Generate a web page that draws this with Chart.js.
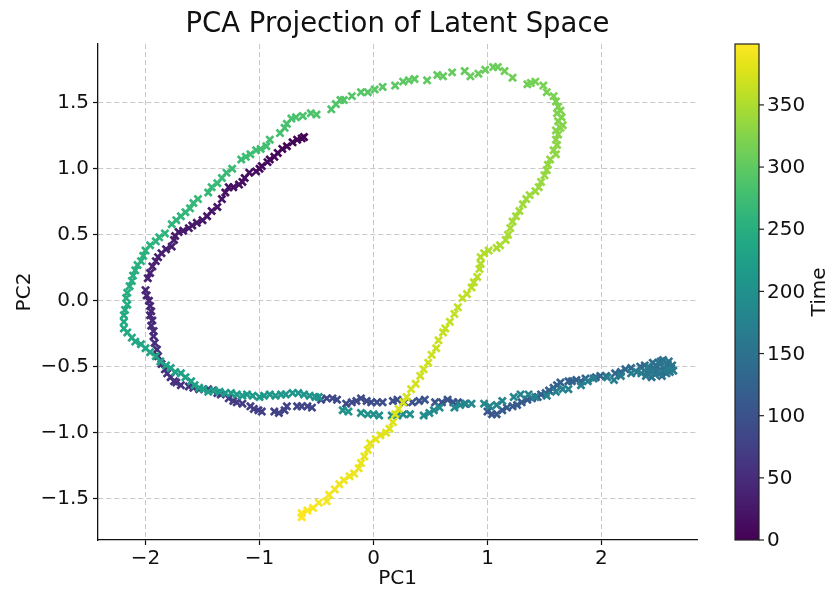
<!DOCTYPE html>
<html><head><meta charset="utf-8">
<script src="https://cdn.jsdelivr.net/npm/chart.js@4/dist/chart.umd.min.js"></script>
<style>html,body{margin:0;padding:0;background:#fff}#wrap{width:837px;height:591px}</style>
</head><body><div id="wrap"><canvas id="c" width="837" height="591"></canvas></div>
<script>
// PC1 values along the trajectory (time order)
const pc1 = [
-0.61,-0.63,-0.67,-0.71,-0.76,-0.80,-0.84,-0.87,-0.91,-0.93,-0.98,-1.00,-1.03,-1.09,-1.13,-1.15,-1.18,-1.23,-1.27,-1.30,-1.33,-1.37,-1.42,-1.46,-1.50,-1.55,-1.59,-1.62,-1.67,-1.71,-1.74,-1.75,-1.77,-1.82,-1.86,-1.89,-1.91,-1.94,-1.96,-1.98,
-2.00,-1.99,-1.97,-1.96,-1.95,-1.96,-1.94,-1.95,-1.93,-1.93,-1.92,-1.90,-1.89,-1.86,-1.83,
-1.81,-1.78,-1.75,-1.73,-1.69,-1.62,-1.58,-1.53,-1.45,-1.41,-1.37,-1.34,-1.27,-1.23,-1.20,-1.15,-1.08,-1.05,-1.01,-0.98,-0.87,-0.83,-0.78,-0.76,-0.67,-0.63,-0.58,-0.54,-0.46,-0.41,-0.36,-0.32,-0.24,-0.19,-0.15,-0.11,-0.06,
-0.02,0.03,0.08,0.17,0.21,0.27,0.34,0.40,0.45,0.54,0.60,0.65,0.70,0.74,0.80,
1.00,1.04,1.08,1.13,1.17,1.22,1.26,1.30,1.35,1.39,1.44,1.47,1.51,1.54,1.58,1.61,1.64,1.71,1.74,1.78,1.82,1.86,1.95,1.99,2.04,2.12,2.17,2.21,2.26,2.34,
2.38,2.42,2.45,2.49,2.52,2.55,2.58,2.61,2.57,2.53,2.48,2.44,2.40,2.46,2.50,2.54,2.59,2.62,2.60,2.56,2.51,2.47,2.43,2.39,2.35,2.41,2.58,2.63,
2.31,2.26,2.17,2.11,2.05,1.93,1.88,1.82,1.71,1.66,1.60,1.52,1.42,1.36,1.29,1.23,1.13,1.08,1.02,0.97,0.86,0.81,0.76,0.71,0.58,0.53,0.49,0.44,0.32,0.26,0.21,0.16,0.05,0.00,-0.05,-0.11,-0.22,-0.27,
-0.48,-0.51,-0.56,-0.61,-0.66,-0.71,-0.77,-0.81,-0.86,-0.91,-0.96,-1.00,-1.06,-1.11,-1.15,-1.20,-1.25,-1.30,-1.35,-1.40,-1.45,-1.49,-1.53,-1.57,-1.60,-1.65,
-1.69,-1.74,-1.78,-1.82,-1.87,-1.91,-1.96,-2.00,-2.04,-2.09,-2.12,-2.16,-2.19,-2.19,-2.19,-2.18,-2.16,-2.17,-2.16,-2.14,-2.12,-2.11,-2.09,-2.07,-2.04,-2.02,-2.00,
-1.96,-1.91,-1.88,-1.83,-1.77,-1.73,-1.69,-1.65,-1.61,-1.58,-1.54,-1.45,-1.42,-1.37,-1.33,-1.29,-1.24,-1.16,-1.12,-1.08,-1.03,-0.99,-0.94,-0.91,-0.82,-0.78,-0.76,-0.72,
-0.68,-0.62,-0.55,-0.50,-0.37,-0.33,-0.29,-0.26,-0.19,-0.11,-0.05,0.01,0.08,0.19,0.26,0.31,0.36,0.47,0.56,0.61,0.69,0.80,0.85,0.92,0.98,1.05,1.09,1.15,1.22,1.35,1.38,1.42,1.49,1.52,1.58,1.60,1.62,
1.64,1.61,1.65,1.62,1.66,1.64,1.60,1.62,1.60,1.61,1.58,1.60,1.55,1.53,1.52,1.50,1.47,1.45,1.42,1.37,1.34,1.31,1.28,1.25,1.22,1.20,1.18,1.16,1.11,1.08,1.01,0.97,0.94,0.94,0.93,0.91,0.88,0.86,0.82,0.78,0.74,0.71,0.67,0.63,0.61,0.57,0.55,0.51,0.48,0.44,0.41,0.37,0.33,0.29,0.26,0.22,0.19,0.17,0.14,0.11,0.06,0.02,-0.03,-0.05,-0.08,-0.11,-0.13,-0.17,-0.21,-0.26,-0.30,-0.34,-0.39,-0.41,-0.48,-0.53,-0.58,-0.63,-0.63
];
// PC2 values along the trajectory (time order)
const pc2 = [
1.24,1.23,1.22,1.20,1.17,1.15,1.12,1.09,1.07,1.05,1.02,1.00,0.98,0.97,0.93,0.90,0.88,0.86,0.86,0.82,0.77,0.71,0.68,0.64,0.61,0.59,0.57,0.55,0.53,0.52,0.49,0.46,0.41,0.39,0.36,0.33,0.30,0.26,0.21,0.17,
0.08,0.04,0.00,-0.04,-0.08,-0.11,-0.15,-0.19,-0.23,-0.27,-0.32,-0.37,-0.42,-0.48,-0.52,
-0.55,-0.58,-0.61,-0.62,-0.64,-0.65,-0.66,-0.67,-0.67,-0.68,-0.70,-0.71,-0.74,-0.76,-0.77,-0.78,-0.80,-0.82,-0.83,-0.84,-0.84,-0.85,-0.83,-0.80,-0.80,-0.80,-0.80,-0.81,-0.75,-0.74,-0.74,-0.75,-0.78,-0.77,-0.76,-0.74,-0.76,
-0.77,-0.77,-0.77,-0.76,-0.75,-0.77,-0.77,-0.76,-0.75,-0.77,-0.77,-0.75,-0.77,-0.77,-0.78,
-0.84,-0.86,-0.86,-0.83,-0.81,-0.80,-0.79,-0.77,-0.75,-0.74,-0.73,-0.71,-0.70,-0.68,-0.66,-0.64,-0.62,-0.61,-0.61,-0.60,-0.61,-0.59,-0.58,-0.57,-0.57,-0.55,-0.54,-0.52,-0.51,-0.50,
-0.49,-0.52,-0.47,-0.50,-0.46,-0.53,-0.48,-0.51,-0.55,-0.57,-0.54,-0.58,-0.55,-0.51,-0.47,-0.45,-0.46,-0.49,-0.54,-0.52,-0.55,-0.56,-0.54,-0.57,-0.55,-0.50,-0.52,-0.53,
-0.54,-0.55,-0.57,-0.60,-0.58,-0.59,-0.61,-0.64,-0.67,-0.67,-0.69,-0.72,-0.73,-0.71,-0.71,-0.73,-0.76,-0.79,-0.80,-0.78,-0.78,-0.78,-0.79,-0.81,-0.81,-0.83,-0.85,-0.87,-0.86,-0.86,-0.87,-0.87,-0.87,-0.86,-0.86,-0.85,-0.84,-0.83,
-0.73,-0.73,-0.72,-0.71,-0.70,-0.70,-0.71,-0.71,-0.72,-0.71,-0.72,-0.73,-0.72,-0.71,-0.72,-0.71,-0.70,-0.70,-0.69,-0.68,-0.69,-0.67,-0.66,-0.64,-0.61,-0.58,
-0.55,-0.54,-0.51,-0.49,-0.46,-0.42,-0.39,-0.36,-0.33,-0.31,-0.28,-0.24,-0.21,-0.16,-0.11,-0.07,-0.03,0.02,0.06,0.11,0.15,0.19,0.23,0.27,0.30,0.34,0.38,
0.42,0.45,0.48,0.51,0.58,0.61,0.64,0.67,0.70,0.74,0.77,0.82,0.86,0.89,0.93,0.97,1.00,1.07,1.09,1.11,1.14,1.15,1.17,1.22,1.27,1.31,1.34,1.38,
1.39,1.40,1.42,1.41,1.45,1.49,1.52,1.52,1.55,1.58,1.58,1.60,1.62,1.63,1.66,1.67,1.68,1.67,1.71,1.70,1.73,1.74,1.70,1.72,1.75,1.77,1.77,1.74,1.69,1.64,1.65,1.66,1.63,1.58,1.55,1.51,1.47,
1.44,1.42,1.39,1.36,1.33,1.31,1.29,1.26,1.22,1.18,1.14,1.11,1.07,1.03,0.99,0.95,0.90,0.86,0.83,0.80,0.77,0.73,0.68,0.64,0.60,0.55,0.50,0.46,0.42,0.40,0.38,0.36,0.33,0.28,0.24,0.18,0.14,0.10,0.05,0.02,-0.05,-0.10,-0.16,-0.21,-0.24,-0.30,-0.36,-0.41,-0.47,-0.52,-0.57,-0.63,-0.67,-0.73,-0.77,-0.82,-0.86,-0.92,-0.97,-1.00,-1.02,-1.05,-1.08,-1.13,-1.18,-1.23,-1.27,-1.31,-1.33,-1.36,-1.39,-1.43,-1.47,-1.52,-1.53,-1.57,-1.59,-1.61,-1.64
];
// Time = sample index along the trajectory
const time = pc1.map((_, i) => i);

const xTicks = [-2, -1, 0, 1, 2];
const xTickLabels = ['\u22122', '\u22121', '0', '1', '2'];
const yTicks = [-1.5, -1, -0.5, 0, 0.5, 1, 1.5];
const yTickLabels = ['\u22121.5', '\u22121.0', '\u22120.5', '0.0', '0.5', '1.0', '1.5'];
const cbTicks = [0, 50, 100, 150, 200, 250, 300, 350];
const titleText = 'PCA Projection of Latent Space';
const xTitle = 'PC1', yTitle = 'PC2', cbTitle = 'Time';

const FONT = '"DejaVu Sans", sans-serif';
const viridis = ['#440154','#471365','#482475','#463480','#414487','#3b528b','#355f8d','#2f6c8e','#2a788e','#25848e','#21918c','#1e9c89','#22a884','#2fb47c','#44bf70','#5ec962','#7ad151','#9bd93c','#bddf26','#dfe318','#fde725'];
function hex(h){return [parseInt(h.slice(1,3),16),parseInt(h.slice(3,5),16),parseInt(h.slice(5,7),16)];}
function cmap(f){
  f = Math.max(0, Math.min(1, f));
  const p = f * (viridis.length - 1);
  const i = Math.min(Math.floor(p), viridis.length - 2);
  const t = p - i, a = hex(viridis[i]), b = hex(viridis[i+1]);
  return 'rgb(' + a.map((v,k)=>Math.round(v + (b[k]-v)*t)).join(',') + ')';
}
const tMin = Math.min(...time), tMax = Math.max(...time);
const colors = time.map(t => cmap((t - tMin) / (tMax - tMin)));

const extras = {
  id: 'extras',
  afterDraw(chart) {
    const {ctx, chartArea: ca} = chart;
    ctx.save();
    ctx.fillStyle = '#111';
    ctx.font = '27.5px ' + FONT;
    ctx.textAlign = 'center';
    ctx.textBaseline = 'alphabetic';
    ctx.fillText(titleText, (ca.left + ca.right) / 2, 32);
    const L = ca.right + 38, W = 24, T = ca.top, B = ca.bottom;
    const g = ctx.createLinearGradient(0, B, 0, T);
    viridis.forEach((c, i) => g.addColorStop(i / (viridis.length - 1), c));
    ctx.fillStyle = g;
    ctx.fillRect(L, T, W, B - T);
    ctx.strokeStyle = '#222';
    ctx.lineWidth = 1.2;
    ctx.strokeRect(L, T, W, B - T);
    ctx.font = '20px ' + FONT;
    ctx.textAlign = 'left';
    ctx.textBaseline = 'middle';
    ctx.fillStyle = '#111';
    cbTicks.forEach(v => {
      const y = B - (v - tMin) / (tMax - tMin) * (B - T);
      ctx.beginPath(); ctx.moveTo(L + W, y); ctx.lineTo(L + W + 5, y); ctx.stroke();
      ctx.fillText(String(v), L + W + 8, y + 1);
    });
    ctx.translate(820, (T + B) / 2);
    ctx.rotate(-Math.PI / 2);
    ctx.textAlign = 'center';
    ctx.fillText(cbTitle, 0, 0);
    ctx.restore();
  }
};

const axisCommon = (ticks, labels, title, isX) => ({
  type: 'linear',
  afterBuildTicks: s => { s.ticks = ticks.map(v => ({value: v})); },
  ticks: {
    callback: (v, i) => labels[i],
    font: {family: FONT, size: 20}, color: '#111',
    padding: isX ? 2 : 4, maxRotation: 0, autoSkip: false
  },
  grid: {color: '#c8c8c8', lineWidth: 1, tickColor: '#111', tickLength: 5, tickWidth: 1.2, tickBorderDash: []},
  border: {display: true, color: '#111', width: 1.3, dash: [5, 3]},
  title: {display: true, text: title, font: {family: FONT, size: 20}, color: '#111',
          padding: isX ? {top: 0, bottom: 0} : {top: 13, bottom: 0}}
});

const xScale = Object.assign(axisCommon(xTicks, xTickLabels, xTitle, true),
  {min: -2.417, max: 2.838, afterFit: s => { s.height = 51; }});
const yScale = Object.assign(axisCommon(yTicks, yTickLabels, yTitle, false),
  {min: -1.813, max: 1.945, afterFit: s => { s.width = 98; }});

new Chart(document.getElementById('c'), {
  type: 'scatter',
  data: {
    datasets: [{
      data: pc1.map((x, i) => ({x: x, y: pc2[i]})),
      pointStyle: 'crossRot',
      pointRadius: 5,
      pointBorderWidth: 2.7,
      pointBorderColor: colors,
      pointBackgroundColor: colors
    }]
  },
  options: {
    responsive: false, animation: false, devicePixelRatio: 1,
    layout: {padding: {top: 44, right: 140, left: 0, bottom: 0}},
    plugins: {legend: {display: false}, tooltip: {enabled: false}, title: {display: false}},
    scales: {x: xScale, y: yScale}
  },
  plugins: [extras]
});
</script>
</body></html>
